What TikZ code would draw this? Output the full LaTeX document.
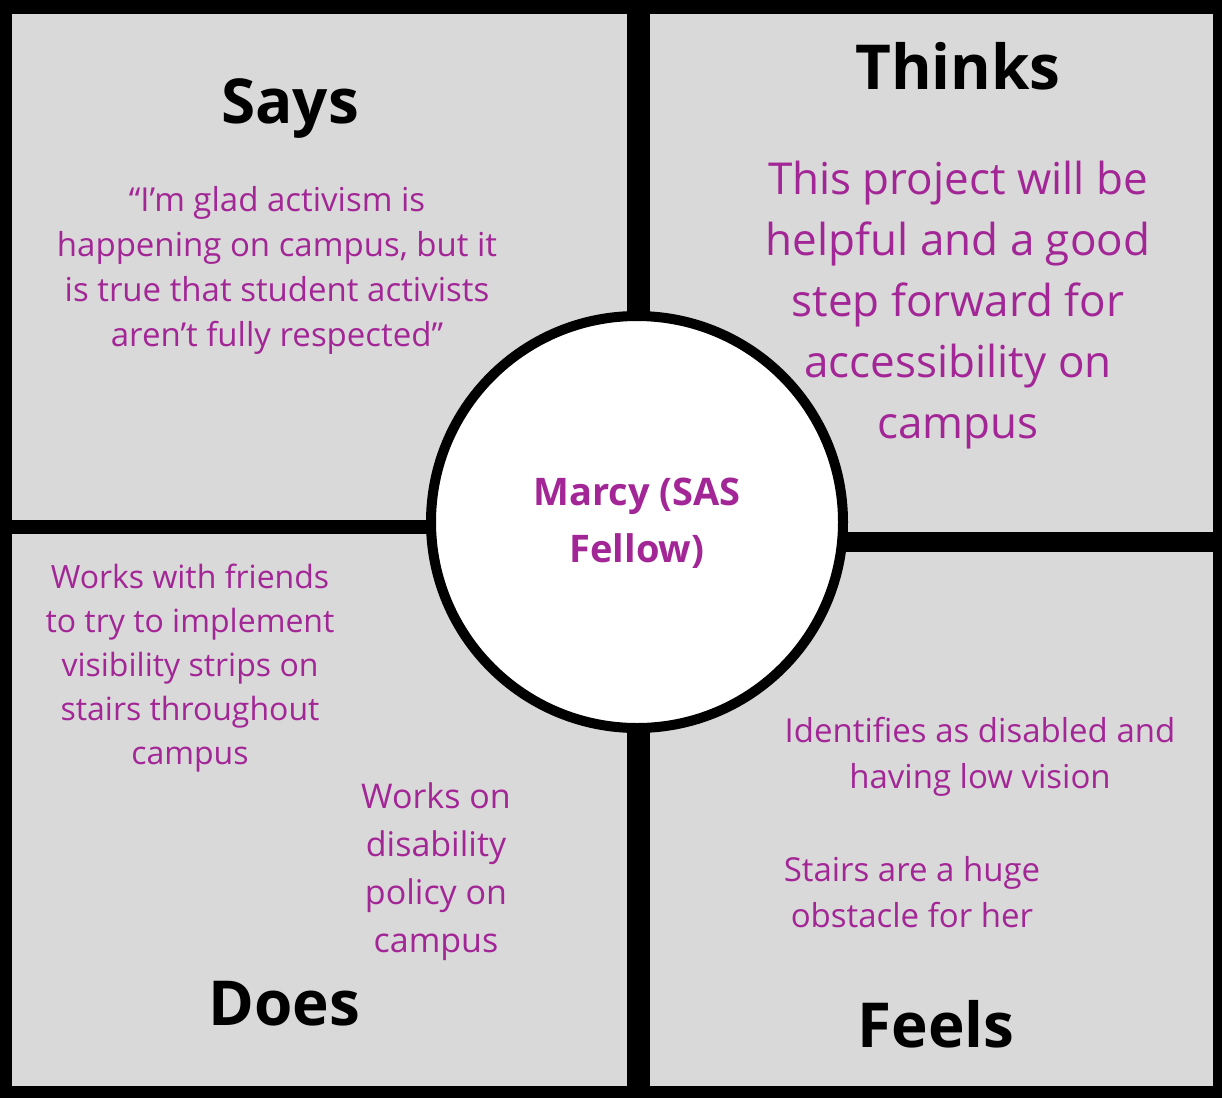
\documentclass[tikz,border=0pt]{standalone}
\usepackage{fontspec}
\setmainfont{Open Sans}
\usetikzlibrary{positioning}
\definecolor{quad}{RGB}{217,217,217}
\definecolor{plum}{RGB}{163,38,150}
\begin{document}
\begin{tikzpicture}[x=1pt,y=-1pt,
  box/.style={fill=quad,draw=none},
  head/.style={font=\fontsize{62}{62}\selectfont\bfseries,text=black},
  say/.style={text=plum,align=center,font=\fontsize{33}{45}\selectfont}]
      \fill[black] (0,0) rectangle (1222,1098);
      \fill[box] (12,14) rectangle (627,520) coordinate (saysq);
      \fill[box] (650,14) rectangle (1213,532) coordinate (thinksq);
      \fill[box] (12,534) rectangle (627,1086) coordinate (doesq);
      \fill[box] (650,552) rectangle (1213,1086) coordinate (feelsq);
      \node[circle,draw=black,line width=10pt,fill=white,minimum size=412pt] (center) at (637,522) {};
      \node[text=plum,align=center,font=\fontsize{38}{57}\selectfont\bfseries] (marcy) at (637,523) {Marcy (SAS\\Fellow)};
      % labels
      \node[head] (says) at (290,108) {Says};
      \node[head] (thinks) at (958,66) {Thinks};
      \node[head] (does) at (284,1004) {Does};
      \node[head] (feels) at (936,1024) {Feels};
      % texts
      \node[say] (quote) at (277,270) {“I’m glad activism is\\happening on campus, but it\\is true that student activists\\aren’t fully respected”};
      \node[say,font=\fontsize{44}{61}\selectfont] (project) at (958,305) {This project will be\\helpful and a good\\step forward for\\accessibility on\\campus};
      \node[say,font=\fontsize{32}{44}\selectfont] (friends) at (190,668) {Works with friends\\to try to implement\\visibility strips on\\stairs throughout\\campus};
      \node[say,font=\fontsize{34}{48}\selectfont] (policy) at (436,872) {Works on\\disability\\policy on\\campus};
      \node[say,font=\fontsize{33}{46}\selectfont] (identifies) at (980,757) {Identifies as disabled and\\having low vision};
      \node[say,font=\fontsize{33}{46}\selectfont] (stairs) at (912,892) {Stairs are a huge\\obstacle for her};
\end{tikzpicture}
\end{document}
